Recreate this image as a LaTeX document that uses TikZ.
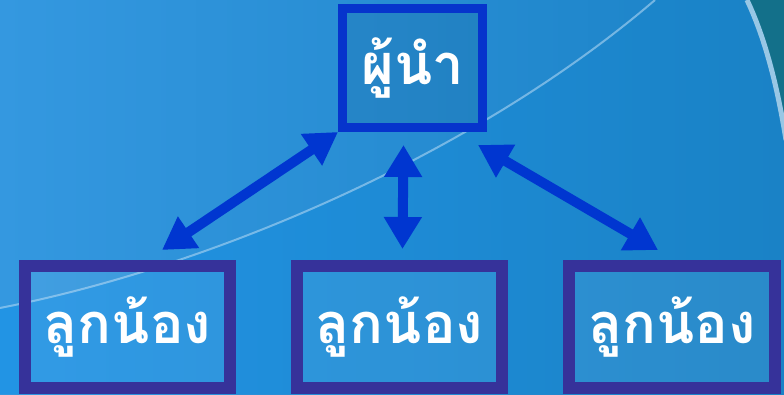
\documentclass[tikz,border=0pt]{standalone}
\usepackage{fontspec}
\newfontfamily\thaifont[Script=Thai]{Loma}
\usetikzlibrary{arrows.meta,calc}
\definecolor{bgtop}{HTML}{3498E0}
\definecolor{bgright}{HTML}{1A82C6}
\definecolor{bglow}{HTML}{1E94E6}
\definecolor{bgteal}{HTML}{13708A}
\definecolor{leadblue}{HTML}{0634CC}
\definecolor{followpurple}{HTML}{36329A}
\definecolor{arrowblue}{HTML}{0036D0}
\tikzstyle{leader} = [draw=leadblue, line width=9pt, fill=black, fill opacity=0.06, text opacity=1, text=white, font={\thaifont\bfseries\fontsize{56}{56}\selectfont}]
\tikzstyle{follower} = [draw=followpurple, line width=12pt, fill=white, fill opacity=0.07, text opacity=1, text=white, font={\thaifont\bfseries\fontsize{56}{56}\selectfont}, minimum width=205pt, minimum height=122pt]
\tikzstyle{link} = [draw=arrowblue, line width=10pt, {Triangle[length=32pt,width=36pt]}-{Triangle[length=32pt,width=36pt]}]

\begin{document}
\begin{tikzpicture}[x=1pt,y=-1pt]
    \useasboundingbox (0,0) rectangle (784,394);
    % background
    \shade[left color=bgtop, right color=bgright] (0,0) rectangle (784,394);
    \shade[left color=bglow, right color=bgright, opacity=0.8] (0,308) .. controls (220,265) and (480,150) .. (655,0) -- (784,0) -- (784,394) -- (0,394) -- cycle;
    \draw[white!60!bgtop, line width=2pt, opacity=0.6] (0,308) .. controls (220,265) and (480,150) .. (655,0);
    \fill[bgteal] (747,0) .. controls (766,40) and (778,90) .. (784,130) -- (784,0) -- cycle;
    \draw[white!55!bgright, line width=5pt] (747,0) .. controls (766,40) and (778,90) .. (786,140);

    \node[leader, minimum width=140pt, minimum height=119pt](lead) at (412.5,68){ผู้นำ};
    \node[follower](f1) at (127.5,327){ลูกน้อง};
    \node[follower](f2) at (399.5,327){ลูกน้อง};
    \node[follower, minimum width=206pt](f3) at (672,327){ลูกน้อง};

    \draw[link]([xshift=-74pt,yshift=10pt]f1.north east)--(lead.south west);
    \draw[link]([xshift=-9pt,yshift=-13pt]lead.south)--([xshift=3pt,yshift=11pt]f2.north);
    \draw[link]([xshift=-9pt,yshift=-13pt]lead.south east)--([xshift=95pt,yshift=10pt]f3.north west);
  \end{tikzpicture}
\end{document}
